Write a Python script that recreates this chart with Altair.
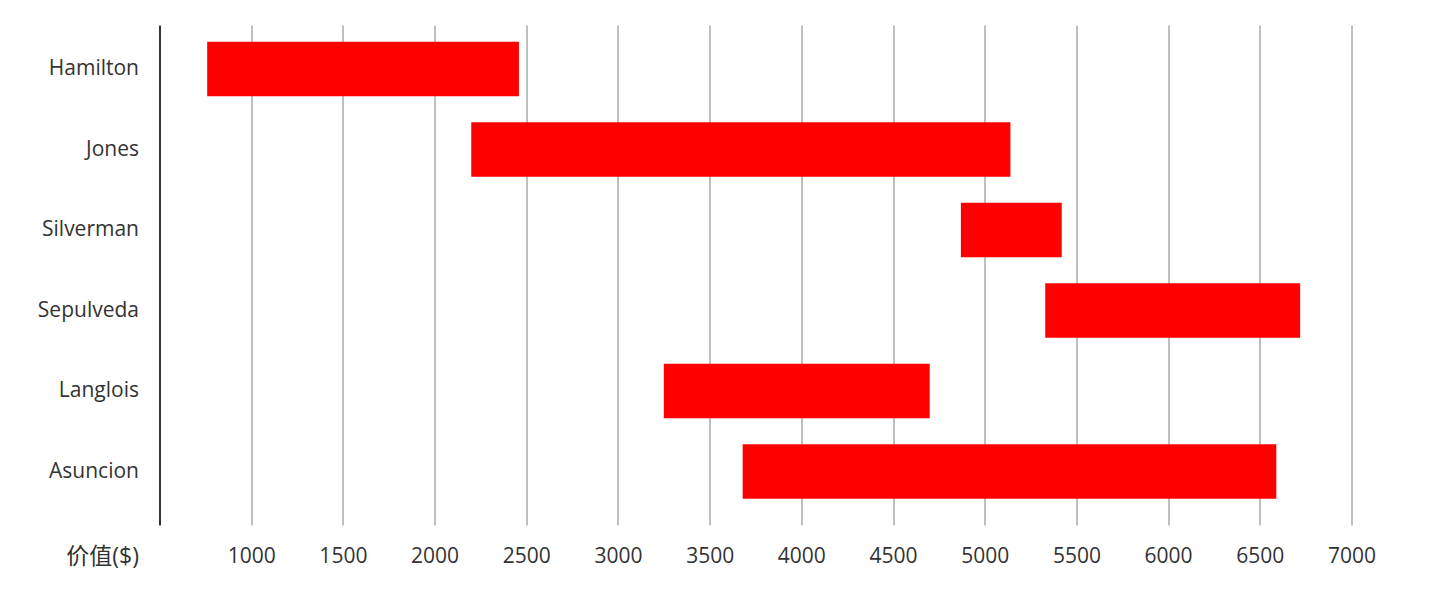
import altair as alt
import pandas as pd

names = ["Hamilton", "Jones", "Silverman", "Sepulveda", "Langlois", "Asuncion"]
starts = [760, 2200, 4870, 5330, 3250, 3680]
ends = [2460, 5140, 5420, 6720, 4700, 6590]
tick_values = [1000, 1500, 2000, 2500, 3000, 3500, 4000, 4500, 5000, 5500, 6000, 6500, 7000]
x_title = "价值($)"

df = pd.DataFrame({"name": names, "start": starts, "end": ends})

FONT = "Open Sans, Noto Sans CJK SC, sans-serif"

chart = alt.Chart(df).mark_bar(color="#ff0000").encode(
    y=alt.Y(
        "name:N",
        sort=names,
        scale=alt.Scale(paddingInner=0.323, paddingOuter=0.267, align=0.39),
        axis=alt.Axis(
            title=None,
            domain=True,
            domainColor="#333333",
            domainWidth=2,
            ticks=False,
            tickSize=0,
            grid=False,
            labelPadding=21,
            labelFont=FONT,
            labelFontSize=21,
            labelColor="#333333",
        ),
    ),
    x=alt.X(
        "start:Q",
        scale=alt.Scale(domain=[500, 7000], nice=False, zero=False),
        axis=alt.Axis(
            title=x_title,
            values=tick_values,
            format="d",
            labelFlush=False,
            labelOverlap=False,
            domain=False,
            ticks=False,
            tickSize=0,
            grid=True,
            gridColor="#808080",
            gridWidth=1,
            labelPadding=31,
            labelBaseline="middle",
            labelFont=FONT,
            labelFontSize=21,
            labelColor="#333333",
            titleFont=FONT,
            titleFontSize=23,
            titleFontWeight="normal",
            titleColor="#333333",
            titleX=-21,
            titleY=31,
            titleAlign="right",
            titleBaseline="middle",
            titleAngle=0,
        ),
    ),
    x2="end:Q",
).properties(
    width=1192,
    height=500,
    autosize=alt.AutoSizeParams(type="none"),
    padding={"left": 151.5, "top": 17, "right": 70, "bottom": 70},
).configure_view(stroke=None)

chart.save("out.html", embed_options={"renderer": "svg", "actions": False})
